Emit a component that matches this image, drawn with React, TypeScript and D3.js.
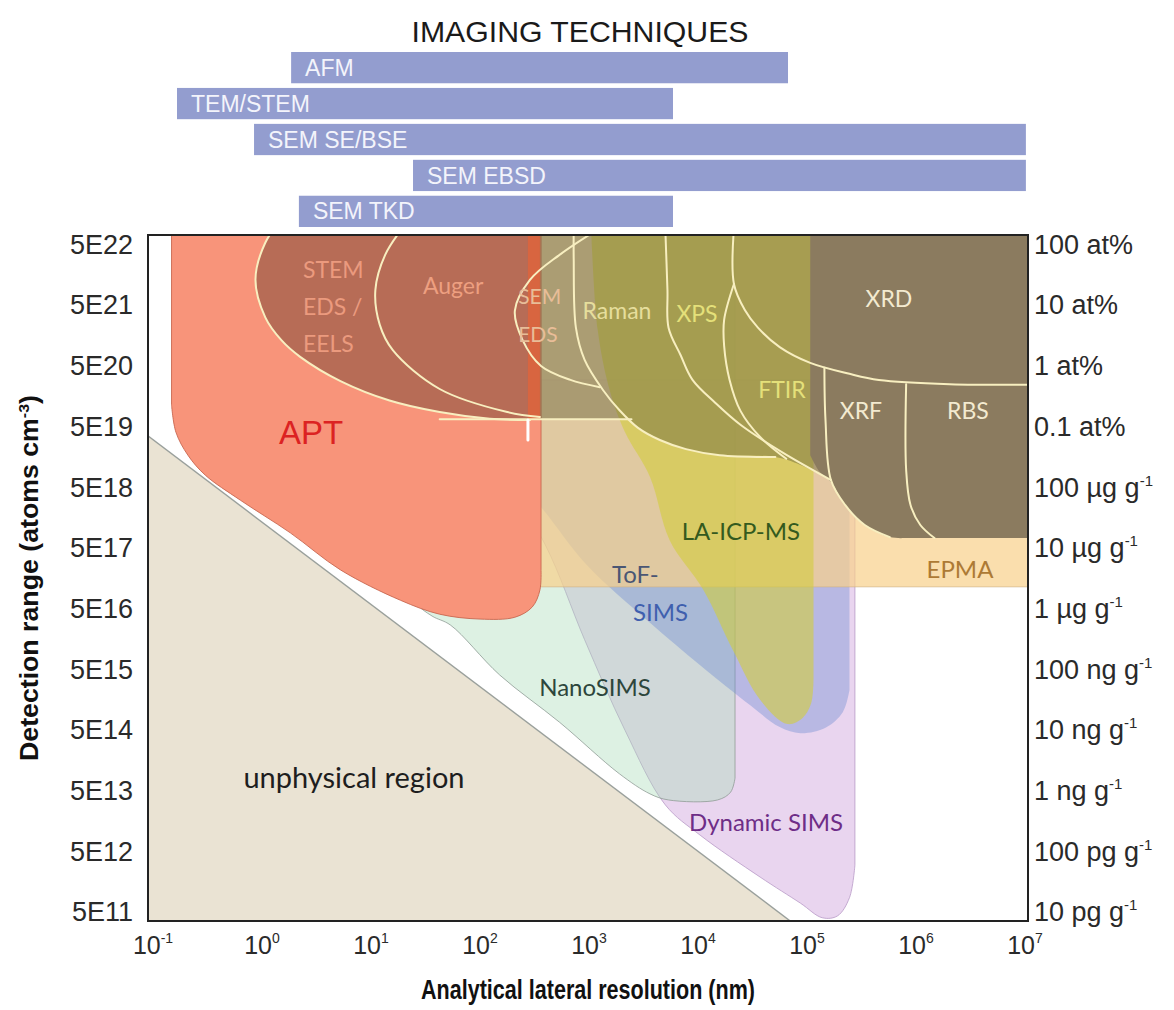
import React from "react";
import * as d3 from "d3";

// ---------- frame / layout ----------
const W = 1174;
const H = 1010;
const PLOT = { left: 148, right: 1028, top: 235, bottom: 921 };

// axis extents (log10 of nm, log10 of atoms cm^-3)
const X_DOMAIN_LOG = [-1.046, 7.028];
const Y_DOMAIN_LOG = [11.546, 22.847];

// ---------- axis ticks ----------
const X_TICK_EXPONENTS = [-1, 0, 1, 2, 3, 4, 5, 6, 7];
const Y_TICK_EXPONENTS = [22, 21, 20, 19, 18, 17, 16, 15, 14, 13, 12, 11];
const Y_LEFT_LABELS = ["5E22", "5E21", "5E20", "5E19", "5E18", "5E17", "5E16", "5E15", "5E14", "5E13", "5E12", "5E11"];
const Y_RIGHT_MAIN = ["100 at%", "10 at%", "1 at%", "0.1 at%", "100 µg g", "10 µg g", "1 µg g", "100 ng g", "10 ng g", "1 ng g", "100 pg g", "10 pg g"];
const Y_RIGHT_SUP = ["", "", "", "", "-1", "-1", "-1", "-1", "-1", "-1", "-1", "-1"];

// ---------- imaging techniques (lateral resolution ranges, nm) ----------
const IMAGING_NAMES = ["AFM", "TEM/STEM", "SEM SE/BSE", "SEM EBSD", "SEM TKD"];
const IMAGING_MIN_NM = [1.85, 0.166, 0.845, 24.3, 2.18];
const IMAGING_MAX_NM = [6.7e4, 5.9e3, 1.02e7, 1.02e7, 5.9e3];

// ---------- technique regions: [log10 nm, log10 atoms cm^-3]; c=1 smooth, c=0 straight ----------
type Seg = { c: number; p: number[][] };

const UNPHYSICAL: Seg[] = [{ c: 0, p: [[-1.1, 19.61], [4.88, 11.5], [-1.1, 11.5]] }];

const DYNAMIC_SIMS: Seg[] = [
  { c: 1, p: [[2.18, 18.98], [2.6, 17.74], [2.96, 16.18], [3.33, 14.69], [3.7, 13.46], [4.02, 12.96], [4.57, 12.27], [4.94, 11.84], [5.14, 11.6], [5.28, 11.63], [5.39, 11.93], [5.44, 12.47]] },
  { c: 0, p: [[5.44, 20.46], [2.0, 20.46]] },
];

const NANOSIMS: Seg[] = [
  { c: 1, p: [[1.36, 17.08], [1.41, 16.79], [1.56, 16.57], [1.73, 16.42], [2.18, 15.6], [2.73, 14.82], [3.28, 13.97], [3.56, 13.64], [3.73, 13.54], [4.18, 13.54], [4.3, 13.67], [4.34, 13.9]] },
  { c: 0, p: [[4.34, 23.5], [1.36, 23.5]] },
];

const TOF_SIMS: Seg[] = [
  { c: 1, p: [[1.54, 20.46], [1.91, 19.8], [2.23, 19.06], [2.58, 18.32], [2.98, 17.41], [3.56, 16.46], [4.02, 15.76], [4.48, 15.1], [4.75, 14.74], [4.94, 14.64], [5.17, 14.73], [5.33, 14.99], [5.39, 15.35]] },
  { c: 0, p: [[5.39, 23.5], [1.54, 23.5]] },
];

const EPMA: Seg[] = [{ c: 0, p: [[2.55, 17.05], [7.2, 17.05], [7.2, 23.5], [2.55, 23.5]] }];

const APT: Seg[] = [
  { c: 1, p: [[-0.83, 20.05], [-0.79, 19.6], [-0.68, 19.22], [-0.52, 18.89], [-0.2, 18.48], [0.26, 17.94], [0.72, 17.33], [1.27, 16.83], [1.63, 16.6], [2.0, 16.52], [2.32, 16.55], [2.48, 16.72], [2.55, 17.0], [2.56, 17.33]] },
  { c: 0, p: [[2.56, 23.5], [-0.83, 23.5]] },
];

const LA_ICP_MS: Seg[] = [
  { c: 1, p: [[3.02, 22.93], [3.08, 21.28], [3.19, 20.29], [3.33, 19.6], [3.56, 18.86], [3.74, 17.82], [4.05, 17.0], [4.32, 16.01], [4.57, 15.19], [4.82, 14.79], [4.96, 14.89], [5.04, 15.14], [5.06, 15.52]] },
  { c: 0, p: [[5.06, 23.5], [3.02, 23.5]] },
];

const STEM_ARC = [[0.18, 23.1], [0.03, 22.72], [-0.06, 22.11], [0.03, 21.49], [0.18, 21.11], [0.35, 20.84], [0.72, 20.44], [1.17, 20.12], [1.63, 19.93], [2.09, 19.82], [2.46, 19.8]];

const DARK_LEFT: Seg[] = [
  { c: 1, p: STEM_ARC },
  { c: 0, p: [[2.55, 19.8], [2.55, 23.5], [0.18, 23.5]] },
];

const DARK_RIGHT: Seg[] = [
  { c: 0, p: [[2.55, 23.5], [2.55, 19.8]] },
  { c: 1, p: [[3.38, 19.8], [3.45, 19.67], [3.65, 19.47], [3.89, 19.32], [4.2, 19.22], [4.71, 19.19], [4.94, 19.06], [5.22, 18.81]] },
  { c: 0, p: [[5.22, 23.5]] },
];

const BULK_XRD: Seg[] = [
  { c: 0, p: [[5.03, 23.5], [5.03, 19.22]] },
  { c: 1, p: [[5.03, 19.22], [5.12, 18.94], [5.22, 18.78], [5.35, 18.4], [5.53, 18.07], [5.76, 17.87], [5.9, 17.855]] },
  { c: 0, p: [[7.2, 17.855], [7.2, 23.5]] },
];

const APT_EDGE: Seg[] = [{ c: 0, p: [[2.44, 19.8], [2.55, 19.8], [2.55, 23.5], [2.44, 23.5]] }];

// boundary lines (cream)
const AUGER_LINE = [[1.31, 23.01], [1.13, 22.52], [1.04, 21.94], [1.08, 21.37], [1.2, 20.95], [1.63, 20.31], [2.25, 19.93], [2.55, 19.85]];
const SHELF_LINE = [[1.63, 19.81], [3.39, 19.81]];
const SEM_LINE = [[3.1, 22.96], [2.73, 22.52], [2.46, 22.11], [2.32, 21.6], [2.39, 21.12], [2.56, 20.69], [2.83, 20.46], [3.1, 20.34]];
const RAMAN_LINE = [[2.86, 22.96], [2.86, 22.44], [2.88, 21.32], [2.96, 20.79], [3.13, 20.29], [3.28, 19.96], [3.45, 19.67], [3.65, 19.47], [3.89, 19.32], [4.2, 19.22], [4.71, 19.19]];
const XPS_LINE = [[3.7, 22.96], [3.72, 21.94], [3.73, 21.32], [3.84, 20.87], [3.95, 20.46], [4.16, 20.08], [4.39, 19.72], [4.77, 19.27], [5.22, 18.81]];
const FTIR_LINE = [[4.33, 22.04], [4.24, 21.45], [4.24, 21.02], [4.29, 20.46], [4.39, 19.95], [4.57, 19.52], [4.81, 19.16]];
const XRD_LINE = [[4.33, 22.96], [4.33, 22.04], [4.43, 21.61], [4.55, 21.32], [4.75, 21.0], [5.03, 20.74], [5.39, 20.56], [5.66, 20.46], [6.31, 20.39], [7.14, 20.38]];
const XRF_LINE = [[5.16, 20.66], [5.17, 19.8], [5.22, 18.81], [5.35, 18.4], [5.53, 18.07], [5.76, 17.87]];
const RBS_LINE = [[5.91, 20.39], [5.91, 18.98], [5.95, 18.4], [6.04, 18.07], [6.17, 17.855]];
const TICK_LINE = [[2.44, 19.8], [2.44, 19.47]];

// region labels: text, log10 nm, log10 conc
const LABEL_TEXT = ["STEM", "EDS /", "EELS", "Auger", "SEM", "EDS", "Raman", "XPS", "XRD", "FTIR", "XRF", "RBS", "APT", "LA-ICP-MS", "ToF-", "SIMS", "NanoSIMS", "EPMA", "Dynamic SIMS", "unphysical region"];
const LABEL_LX = [0.376, 0.376, 0.376, 1.477, 2.35, 2.35, 3.257, 3.991, 5.752, 4.771, 5.495, 6.477, 0.45, 4.394, 3.211, 3.404, 3.055, 6.404, 4.624, 0.844];
const LABEL_LY = [22.271, 21.661, 21.052, 22.007, 21.842, 21.216, 21.595, 21.546, 21.793, 20.294, 19.948, 19.948, 19.602, 17.971, 17.262, 16.636, 15.401, 17.345, 13.177, 13.902];

const LABEL_STYLE: Record<string, { fill: string; size: number; anchor: string; font?: string }> = {
  STEM: { fill: "#eb9a7e", size: 23, anchor: "start" },
  "EDS /": { fill: "#eb9a7e", size: 23, anchor: "start" },
  EELS: { fill: "#eb9a7e", size: 23, anchor: "start" },
  Auger: { fill: "#ed9f80", size: 23, anchor: "start" },
  SEM: { fill: "#e8bd98", size: 21, anchor: "start" },
  EDS: { fill: "#e8bd98", size: 21, anchor: "start" },
  Raman: { fill: "#e6de9c", size: 23, anchor: "middle" },
  XPS: { fill: "#e4e07a", size: 23, anchor: "middle" },
  XRD: { fill: "#f3ead0", size: 23, anchor: "middle" },
  FTIR: { fill: "#e4e07a", size: 23, anchor: "middle" },
  XRF: { fill: "#f3ead0", size: 23, anchor: "middle" },
  RBS: { fill: "#f3ead0", size: 23, anchor: "middle" },
  APT: { fill: "#dc2222", size: 33, anchor: "middle", font: "'Liberation Sans', Arial, sans-serif" },
  "LA-ICP-MS": { fill: "#345a1e", size: 24, anchor: "middle" },
  "ToF-": { fill: "#4a5674", size: 24, anchor: "start" },
  SIMS: { fill: "#3f5fae", size: 24, anchor: "start" },
  NanoSIMS: { fill: "#2d463c", size: 24, anchor: "middle" },
  EPMA: { fill: "#ad7a35", size: 24, anchor: "middle" },
  "Dynamic SIMS": { fill: "#6e2d87", size: 24, anchor: "middle" },
  "unphysical region": { fill: "#1e1e1e", size: 29, anchor: "middle" },
};

export default function App() {
  const x = d3
    .scaleLog()
    .domain([Math.pow(10, X_DOMAIN_LOG[0]), Math.pow(10, X_DOMAIN_LOG[1])])
    .range([PLOT.left, PLOT.right]);
  const y = d3
    .scaleLog()
    .domain([Math.pow(10, Y_DOMAIN_LOG[0]), Math.pow(10, Y_DOMAIN_LOG[1])])
    .range([PLOT.bottom, PLOT.top]);

  const P = (p: number[]): [number, number] => [x(Math.pow(10, p[0])), y(Math.pow(10, p[1]))];

  const shape = (segs: Seg[]) => {
    let d = "";
    segs.forEach((s, i) => {
      const gen = d3
        .line<[number, number]>()
        .curve(s.c ? d3.curveCatmullRom.alpha(0.5) : d3.curveLinear);
      let part = gen(s.p.map(P)) || "";
      if (i > 0) part = "L" + part.slice(1);
      d += part;
    });
    return d + "Z";
  };
  const line = (pts: number[][], smooth = true) =>
    d3
      .line<[number, number]>()
      .curve(smooth ? d3.curveCatmullRom.alpha(0.5) : d3.curveLinear)(pts.map(P)) || "";

  const band = d3.scaleBand<string>().domain(IMAGING_NAMES).range([52, 227]).paddingInner(0.13);

  const cream = "#f8efc0";
  const sansFont = "'Liberation Sans', Arial, sans-serif";
  const labelFont = "Lato, 'Noto Sans', sans-serif";

  return (
    <svg
      width={W}
      height={H}
      viewBox={`0 0 ${W} ${H}`}
      style={{ position: "absolute", left: 0, top: 0, display: "block", background: "#fff" }}
      fontFamily={sansFont}
    >
      <defs>
        <clipPath id="plotClip">
          <rect x={PLOT.left} y={PLOT.top} width={PLOT.right - PLOT.left} height={PLOT.bottom - PLOT.top} />
        </clipPath>
      </defs>
      <rect x={0} y={0} width={W} height={H} fill="#fff" />

      {/* title + imaging bars */}
      <text x={580} y={42} textAnchor="middle" fontSize={30} fill="#1a1a1a" textLength={337} lengthAdjust="spacingAndGlyphs">
        IMAGING TECHNIQUES
      </text>
      {IMAGING_NAMES.map((n, i) => {
        const x0 = x(IMAGING_MIN_NM[i]);
        const x1 = x(IMAGING_MAX_NM[i]);
        const top = band(n) as number;
        return (
          <g key={n}>
            <rect x={x0} y={top} width={x1 - x0} height={band.bandwidth()} fill="#939dcf" />
            <text x={x0 + 14} y={top + band.bandwidth() * 0.76} fontSize={23} fill="#f3f4fb">
              {n}
            </text>
          </g>
        );
      })}

      {/* plot regions */}
      <g clipPath="url(#plotClip)">
        <rect x={PLOT.left} y={PLOT.top} width={PLOT.right - PLOT.left} height={PLOT.bottom - PLOT.top} fill="#fff" />
        <path d={shape(UNPHYSICAL)} fill="#eae3d3" />
        <path d={shape(DYNAMIC_SIMS)} fill="rgb(200,150,215)" fillOpacity={0.4} stroke="#b899c6" strokeWidth={0.8} />
        <path d={shape(NANOSIMS)} fill="rgb(170,220,185)" fillOpacity={0.4} stroke="#8f9c95" strokeWidth={0.8} />
        <path d={shape(TOF_SIMS)} fill="rgb(110,140,210)" fillOpacity={0.4} />
        <path d={shape(EPMA)} fill="rgb(248,208,138)" fillOpacity={0.7} stroke="#c9b08a" strokeWidth={0.6} />
        <path d={shape(APT)} fill="rgb(248,148,122)" stroke="#c8664f" strokeWidth={0.9} />
        <path d={shape(LA_ICP_MS)} fill="rgb(210,205,60)" fillOpacity={0.6} />
        <path d={shape(DARK_LEFT)} fill="rgb(105,60,42)" fillOpacity={0.45} />
        <path d={shape(APT_EDGE)} fill="rgb(222,100,60)" fillOpacity={0.85} />
        <path d={shape(DARK_RIGHT)} fill="rgb(100,95,55)" fillOpacity={0.44} />
        <path d={shape(BULK_XRD)} fill="rgb(139,123,95)" />
        <path d={line([[-1.1, 19.61], [4.88, 11.5]], false)} fill="none" stroke="#9aa09c" strokeWidth={1.4} />

        {/* cream boundaries */}
        <g fill="none" stroke={cream} strokeWidth={2} strokeLinecap="round">
          <path d={line(STEM_ARC)} />
          <path d={line(AUGER_LINE)} />
          <path d={line(SHELF_LINE, false)} />
          <path d={line(SEM_LINE)} />
          <path d={line(RAMAN_LINE)} />
          <path d={line(XPS_LINE)} />
          <path d={line(FTIR_LINE)} />
          <path d={line(XRD_LINE)} />
          <path d={line(XRF_LINE)} />
          <path d={line(RBS_LINE)} />
          <path d={line(TICK_LINE, false)} strokeWidth={3} stroke="#fff" />
        </g>

        {LABEL_TEXT.map((t, i) => {
          const st = LABEL_STYLE[t];
          const [lx, ly] = P([LABEL_LX[i], LABEL_LY[i]]);
          return (
            <text
              key={t + i}
              x={lx}
              y={ly}
              dy="0.36em"
              textAnchor={st.anchor as any}
              fontSize={st.size}
              fill={st.fill}
              fontFamily={st.font || labelFont}
            >
              {t}
            </text>
          );
        })}
      </g>

      {/* frame */}
      <rect
        x={PLOT.left}
        y={PLOT.top}
        width={PLOT.right - PLOT.left}
        height={PLOT.bottom - PLOT.top}
        fill="none"
        stroke="#222"
        strokeWidth={2}
      />

      {/* left y labels */}
      {Y_TICK_EXPONENTS.map((e, i) => (
        <text key={"yl" + e} x={133} y={y(5 * Math.pow(10, e))} dy="0.36em" textAnchor="end" fontSize={27} fill="#2a2a2a">
          {Y_LEFT_LABELS[i]}
        </text>
      ))}
      {/* right y labels */}
      {Y_TICK_EXPONENTS.map((e, i) => (
        <text key={"yr" + e} x={1034} y={y(5 * Math.pow(10, e))} dy="0.36em" textAnchor="start" fontSize={27} fill="#2a2a2a">
          {Y_RIGHT_MAIN[i]}
          {Y_RIGHT_SUP[i] ? (
            <tspan dy={-11} fontSize={15}>
              {Y_RIGHT_SUP[i]}
            </tspan>
          ) : null}
        </text>
      ))}
      {/* x tick labels */}
      {X_TICK_EXPONENTS.map((e) => (
        <text key={"xt" + e} x={x(Math.pow(10, e))} y={954} textAnchor="middle" fontSize={25} fill="#2a2a2a">
          10
          <tspan dy={-11} fontSize={14}>
            {String(e)}
          </tspan>
        </text>
      ))}

      {/* axis titles */}
      <text
        x={588}
        y={999}
        textAnchor="middle"
        fontSize={27}
        fontWeight="bold"
        fill="#111"
        textLength={334}
        lengthAdjust="spacingAndGlyphs"
      >
        Analytical lateral resolution (nm)
      </text>
      <text
        transform="translate(38,578) rotate(-90)"
        textAnchor="middle"
        fontSize={25}
        fontWeight="bold"
        fill="#111"
        textLength={366}
        lengthAdjust="spacingAndGlyphs"
      >
        Detection range (atoms cm
        <tspan dy={-9} fontSize={15}>
          -3
        </tspan>
        <tspan dy={9}>)</tspan>
      </text>
    </svg>
  );
}
